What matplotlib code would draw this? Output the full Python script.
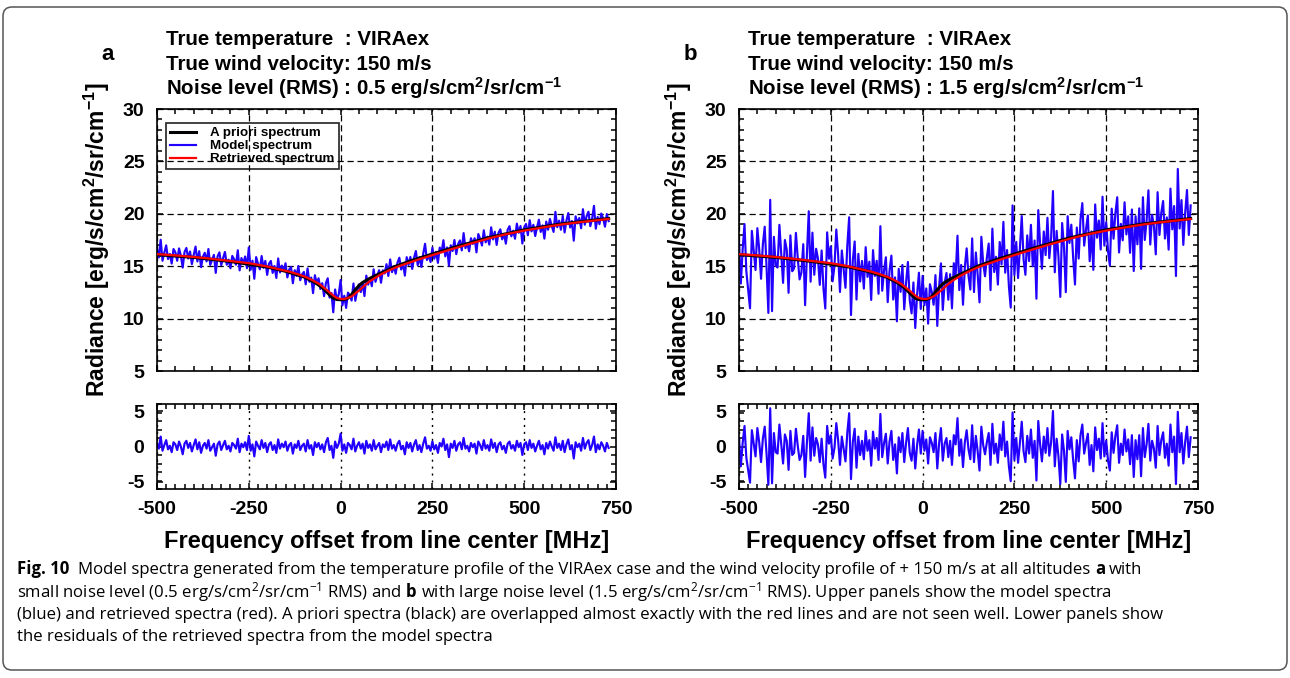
import numpy as np
import matplotlib
matplotlib.use("Agg")
import matplotlib.pyplot as plt
from matplotlib.ticker import MultipleLocator
from matplotlib.patches import FancyBboxPatch
from matplotlib.transforms import IdentityTransform

plt.rcParams['font.family'] = ['Liberation Sans', 'DejaVu Sans']
plt.rcParams['mathtext.fontset'] = 'custom'
plt.rcParams['mathtext.rm'] = 'Liberation Sans'
plt.rcParams['mathtext.default'] = 'regular'
plt.rcParams['axes.unicode_minus'] = False

# frequency grid of the spectra [MHz]
f_start, f_stop, f_step = -500, 730, 5
freq = np.arange(f_start, f_stop + 1, f_step)

# retrieved spectrum (red), one value per grid point
retrieved = np.array([
    16.15, 16.14, 16.13, 16.12, 16.10, 16.09, 16.08, 16.07, 16.05, 16.04,
    16.03, 16.02, 16.00, 15.99, 15.97, 15.96, 15.94, 15.93, 15.91, 15.90,
    15.88, 15.87, 15.85, 15.83, 15.81, 15.80, 15.78, 15.76, 15.74, 15.72,
    15.70, 15.68, 15.66, 15.64, 15.62, 15.60, 15.58, 15.56, 15.54, 15.52,
    15.50, 15.48, 15.46, 15.44, 15.42, 15.40, 15.38, 15.36, 15.33, 15.31,
    15.29, 15.26, 15.23, 15.20, 15.17, 15.14, 15.10, 15.07, 15.04, 15.01,
    14.97, 14.94, 14.90, 14.86, 14.82, 14.78, 14.74, 14.70, 14.66, 14.62,
    14.58, 14.53, 14.48, 14.43, 14.37, 14.32, 14.27, 14.22, 14.16, 14.11,
    14.05, 13.97, 13.89, 13.81, 13.72, 13.63, 13.54, 13.45, 13.35, 13.22,
    13.08, 12.94, 12.80, 12.65, 12.50, 12.35, 12.20, 12.08, 11.98, 11.92,
    11.88, 11.87, 11.88, 11.92, 11.98, 12.04, 12.12, 12.25, 12.40, 12.53,
    12.67, 12.83, 13.00, 13.15, 13.30, 13.44, 13.58, 13.69, 13.80, 13.91,
    14.02, 14.12, 14.22, 14.31, 14.40, 14.49, 14.57, 14.65, 14.73, 14.81,
    14.88, 14.95, 15.01, 15.08, 15.14, 15.20, 15.26, 15.32, 15.38, 15.44,
    15.50, 15.55, 15.61, 15.67, 15.73, 15.78, 15.84, 15.89, 15.95, 16.00,
    16.06, 16.11, 16.17, 16.22, 16.28, 16.33, 16.38, 16.44, 16.49, 16.55,
    16.60, 16.65, 16.70, 16.75, 16.81, 16.86, 16.91, 16.96, 17.02, 17.07,
    17.12, 17.17, 17.22, 17.27, 17.32, 17.37, 17.42, 17.47, 17.52, 17.57,
    17.62, 17.66, 17.71, 17.75, 17.79, 17.83, 17.88, 17.92, 17.96, 18.00,
    18.05, 18.08, 18.12, 18.15, 18.19, 18.22, 18.26, 18.29, 18.33, 18.36,
    18.40, 18.43, 18.46, 18.49, 18.52, 18.55, 18.58, 18.61, 18.64, 18.67,
    18.70, 18.73, 18.76, 18.78, 18.81, 18.84, 18.87, 18.89, 18.92, 18.95,
    18.98, 19.00, 19.02, 19.04, 19.07, 19.09, 19.11, 19.13, 19.16, 19.18,
    19.20, 19.22, 19.24, 19.26, 19.28, 19.30, 19.32, 19.34, 19.36, 19.38,
    19.40, 19.41, 19.43, 19.45, 19.47, 19.48, 19.50])

# a priori spectrum (black)
apriori_freq = [-500, -400, -300, -200, -150, -100, -70, -50, -40, -30, -20, -10,
                0, 10, 20, 30, 40, 50, 60, 80, 100, 150, 200, 300, 400, 500, 600, 730]
apriori = [16.10, 15.84, 15.45, 14.92, 14.52, 13.98, 13.45, 12.95, 12.62, 12.25, 11.95, 11.82,
           11.80, 11.82, 11.95, 12.30, 12.75, 13.15, 13.45, 13.85, 14.18, 15.00, 15.62, 16.70,
           17.70, 18.47, 19.03, 19.55]

# residuals (model - retrieved), small noise case (a)
resid_a = np.array([
    0.5, -0.3, 1.4, -0.6, 0.2, 0.9, -0.4, 0.1, -0.8, 0.6,
    0.3, -0.5, 0.7, 0.0, -1.1, 0.4, 0.8, -0.2, 0.5, -0.7,
    0.2, 1.0, -0.4, 0.6, -0.9, 0.1, 0.5, -0.3, 0.9, -0.6,
    -0.1, 0.4, -1.3, 0.3, 0.7, -0.5, 0.2, 0.8, -0.4, 0.1,
    -0.7, 0.5, 0.2, -0.3, 1.1, -0.8, 0.4, -0.1, 0.6, -0.5,
    1.5, -0.6, 0.3, -1.4, 0.7, 0.1, -0.4, 0.9, -0.2, 0.5,
    -0.8, 0.3, 0.6, -0.5, 0.2, -0.9, 1.0, -0.3, 0.4, -0.1,
    0.7, -0.6, 0.2, 0.5, -1.0, 0.3, -0.2, 0.8, -0.5, 0.1,
    0.4, -0.7, 0.9, -0.3, 0.2, -1.2, 0.6, -0.1, 0.5, -0.4,
    0.3, -0.8, 0.6, 1.2, -0.5, 0.1, -1.6, 0.7, -0.2, 0.4,
    1.8, -0.6, 0.3, -0.9, 0.5, 0.2, -0.4, 1.1, -0.7, 0.1,
    0.6, -0.3, 0.4, -1.0, 0.8, -0.2, 0.3, -0.6, 0.9, -0.4,
    0.1, 0.5, -0.8, 0.3, -0.1, 0.7, -0.5, 1.0, -0.3, 0.2,
    -0.6, 0.4, 0.8, -0.4, 0.1, -1.1, 0.6, -0.2, 0.5, -0.7,
    0.3, 0.9, -0.5, 0.2, -0.8, 0.4, 1.3, -0.3, 0.1, -0.6,
    0.7, -0.4, 0.2, -0.9, 0.5, 0.0, 1.1, -0.5, 0.3, -1.5,
    0.4, -0.2, 0.8, -0.6, 0.3, 0.6, -0.4, 1.2, -0.3, 0.1,
    -0.7, 0.5, -0.1, 0.4, -1.0, 0.7, 0.2, -0.5, 0.9, -0.3,
    0.2, -0.6, 1.0, -0.2, 0.5, -0.8, 0.3, 0.6, -0.4, 0.1,
    -0.9, 0.4, 0.7, -0.3, 0.2, -0.6, 0.8, -0.1, 0.5, -1.2,
    0.3, 0.6, -0.5, 0.9, -0.2, 0.4, -0.7, 0.1, 0.8, -0.4,
    0.2, -1.1, 0.5, -0.3, 0.7, 0.0, -0.6, 1.3, -0.2, 0.4,
    -0.5, 0.8, -0.8, 0.3, 1.0, -0.4, 0.2, -1.7, 0.6, -0.1,
    0.4, -0.6, 1.2, -0.3, 0.5, 0.9, -0.5, 0.2, 1.4, -0.8,
    0.3, -0.4, 0.6, 0.1, -0.7, 0.5, -0.2])

# residuals, large noise case (b)
resid_b = np.array([
    1.2, -2.8, 0.5, 2.9, -1.6, -3.4, -5.1, 2.3, 0.4, -1.4,
    2.6, 0.6, -2.2, 1.1, 2.8, -1.0, -5.4, 5.4, -5.2, 1.9,
    -0.8, -1.0, 3.1, 0.3, -2.4, 1.7, 0.8, -3.3, 2.2, -1.2,
    -0.9, 2.5, 0.1, -1.9, -1.2, 1.5, -4.3, 0.6, 4.7, -2.0,
    2.7, -1.3, 1.2, 0.3, -2.2, 1.1, -2.5, -4.4, 2.9, 0.4,
    1.6, -1.7, -0.2, 3.3, 0.9, -2.6, 1.4, -0.4, -2.1, 2.0,
    4.7, -4.6, 0.7, 2.5, -3.0, 1.4, -1.2, 0.8, -1.8, 2.2,
    -0.6, 0.9, -2.7, 2.1, -0.3, 1.2, -1.9, 4.6, -1.5, 0.5,
    1.8, -2.4, 0.7, 2.2, -1.9, 0.3, -3.8, 1.3, -0.8, 1.9,
    -2.2, 0.5, 2.6, -0.9, -2.0, 1.1, -3.1, 0.2, 2.4, -1.0,
    2.2, -0.6, 1.0, -2.4, 1.3, 0.5, -0.8, 1.9, -3.1, 0.5,
    2.6, -2.0, 0.4, 1.2, -1.5, 0.8, -2.6, 1.6, 0.3, 4.0,
    -1.3, 1.0, -2.9, 0.6, 2.3, -0.4, -1.8, 3.0, -2.2, 1.5,
    -0.7, -3.4, 2.8, 0.2, -1.1, 0.6, 1.9, -2.6, 3.2, -1.0,
    0.4, -2.3, 1.7, -0.5, 3.5, -1.4, 0.7, -2.8, -4.9, 4.8,
    -1.9, 1.2, -2.3, 0.5, 3.5, -0.7, -2.2, 1.5, -1.0, 2.4,
    -1.6, 0.8, -4.8, 3.6, 0.3, -2.1, 1.4, -0.9, 2.6, -1.3,
    0.6, 5.0, -2.8, 1.1, -1.4, -5.3, 1.7, -0.6, -5.0, 2.2,
    -0.4, 1.3, -1.9, -4.5, 0.9, -2.1, 1.6, 3.1, -1.0, 0.5,
    1.8, -2.6, 0.2, -3.5, 2.7, -0.5, 1.1, -1.7, 3.3, -1.4,
    0.8, -2.0, -3.4, 2.0, -0.9, 1.5, 3.0, -2.3, 0.4, -1.2,
    2.4, -0.7, 1.0, -2.5, 1.6, -4.3, 0.9, -1.8, 1.6, -4.2,
    2.6, -1.5, 0.3, 3.2, -2.0, 0.8, -0.3, -3.0, 2.9, -1.2,
    0.9, 2.0, -1.6, 0.4, -2.7, 3.1, -0.8, 1.4, -5.3, 4.9,
    -0.8, 1.9, -2.4, 0.6, 2.8, -1.5, 1.3])

panel_labels = ['a', 'b']
noise_rms = ['0.5', '1.5']
residuals = [resid_a, resid_b]

W, H = 1290, 678
fig = plt.figure(figsize=(W / 100, H / 100), dpi=100)

BLUE = '#2200ff'
tick_fs = 14
panel_left = [157, 739]
panel_w = 459


def px_axes(x0, y0, w, h):
    return fig.add_axes([x0 / W, 1 - (y0 + h) / H, w / W, h / H])


def style_axes(ax):
    for s in ax.spines.values():
        s.set_linewidth(1.2)
    ax.tick_params(which='both', direction='in', top=True, right=True,
                   width=1.1, labelsize=tick_fs, pad=9)
    ax.tick_params(which='major', length=4.5)
    ax.tick_params(which='minor', length=3.8)
    for lab in ax.get_xticklabels() + ax.get_yticklabels():
        lab.set_fontweight('bold')


for i in range(2):
    x0 = panel_left[i]
    model = retrieved + residuals[i]

    # upper panel: spectra
    ax = px_axes(x0, 109, panel_w, 262)
    ax.plot(freq, model, color=BLUE, lw=1.55, label='Model spectrum', zorder=2)
    ax.plot(apriori_freq, apriori, color='black', lw=2.2, label='A priori spectrum', zorder=3)
    ax.plot(freq, retrieved, color='red', lw=1.6, label='Retrieved spectrum', zorder=4)
    ax.set_xlim(-500, 750)
    ax.set_ylim(5, 30)
    ax.xaxis.set_major_locator(MultipleLocator(250))
    ax.xaxis.set_minor_locator(MultipleLocator(50))
    ax.yaxis.set_major_locator(MultipleLocator(5))
    ax.yaxis.set_minor_locator(MultipleLocator(1))
    ax.grid(True, which='major', color='black', lw=0.9, linestyle=(0, (5, 3)))
    style_axes(ax)
    ax.tick_params(labelbottom=False)

    if i == 0:
        h, l = ax.get_legend_handles_labels()
        order = [1, 0, 2]
        leg = ax.legend([h[k] for k in order], [l[k] for k in order],
                        loc='upper left', bbox_to_anchor=(0.02, 0.947), borderaxespad=0,
                        prop={'size': 9.6, 'weight': 'bold'}, fancybox=False,
                        edgecolor='black', facecolor='none',
                        handlelength=1.9, labelspacing=0.05, borderpad=0.3,
                        handletextpad=1.1)
        leg.get_frame().set_linewidth(1.3)

    # lower panel: residuals
    axr = px_axes(x0, 404, panel_w, 85)
    axr.plot(freq, residuals[i], color=BLUE, lw=1.55)
    axr.set_xlim(-500, 750)
    axr.set_ylim(-6, 6)
    axr.xaxis.set_major_locator(MultipleLocator(250))
    axr.xaxis.set_minor_locator(MultipleLocator(25))
    axr.yaxis.set_major_locator(MultipleLocator(5))
    axr.yaxis.set_minor_locator(MultipleLocator(1.2))
    axr.grid(True, which='major', axis='x', color='black', lw=1.0, linestyle=(0, (1.5, 3.5)))
    style_axes(axr)

    # texts around the panel
    cx = x0 + panel_w / 2
    fig.text((x0 - 49) / W, 1 - 60 / H, panel_labels[i], fontsize=16, fontweight='bold',
             ha='center', va='baseline')
    title_lines = ['True temperature  : VIRAex',
                   'True wind velocity: 150 m/s',
                   'Noise level (RMS) : ' + noise_rms[i] + ' erg/s/cm$^{2}$/sr/cm$^{-1}$']
    for k, line in enumerate(title_lines):
        fig.text((x0 + 9) / W, 1 - (45 + 25 * k) / H, line, fontsize=14.8,
                 fontweight='bold', ha='left', va='baseline')
    fig.text((x0 - 60) / W, 1 - 240 / H, 'Radiance [erg/s/cm$^{2}$/sr/cm$^{-1}$]',
             rotation=90, fontsize=16.5, fontweight='bold', ha='center', va='center')
    fig.text(cx / W, 1 - 548 / H, 'Frequency offset from line center [MHz]',
             fontsize=17, fontweight='bold', ha='center', va='baseline')

# rounded frame around figure and caption
frame = FancyBboxPatch((3, 8), 1284, 663, boxstyle='round,pad=0,rounding_size=9',
                       transform=IdentityTransform(), facecolor='none',
                       edgecolor='#555555', lw=1.1)
fig.patches.append(frame)

# caption
cap_font = 'Open Sans'
cap_fs = 12.05
renderer = fig.canvas.get_renderer()


def text_w(s, bold):
    t = fig.text(0, 0, s, fontsize=cap_fs, family=cap_font,
                 fontweight='bold' if bold else 'normal')
    w = t.get_window_extent(renderer).width
    t.remove()
    return w


space_w = text_w('x x', False) - text_w('xx', False)


def caption_line(y, runs):
    x = 17
    for text, bold, gap in runs:
        x += gap * space_w
        t = fig.text(x / W, 1 - y / H, text, fontsize=cap_fs, family=cap_font,
                     fontweight='bold' if bold else 'normal', ha='left', va='baseline')
        x += t.get_window_extent(renderer).width


caption_line(574, [('Fig. 10', True, 0),
                   ('Model spectra generated from the temperature profile of the VIRAex case '
                    'and the wind velocity profile of + 150 m/s at all altitudes', False, 2),
                   ('a', True, 1), ('with', False, 1)])
caption_line(597, [('small noise level (0.5 erg/s/cm$^{2}$/sr/cm$^{-1}$ RMS) and', False, 0),
                   ('b', True, 1),
                   ('with large noise level (1.5 erg/s/cm$^{2}$/sr/cm$^{-1}$ RMS). '
                    'Upper panels show the model spectra', False, 1)])
caption_line(619, [('(blue) and retrieved spectra (red). A priori spectra (black) are overlapped '
                    'almost exactly with the red lines and are not seen well. Lower panels show',
                    False, 0)])
caption_line(641, [('the residuals of the retrieved spectra from the model spectra', False, 0)])

fig.savefig('out.png', dpi=100)
